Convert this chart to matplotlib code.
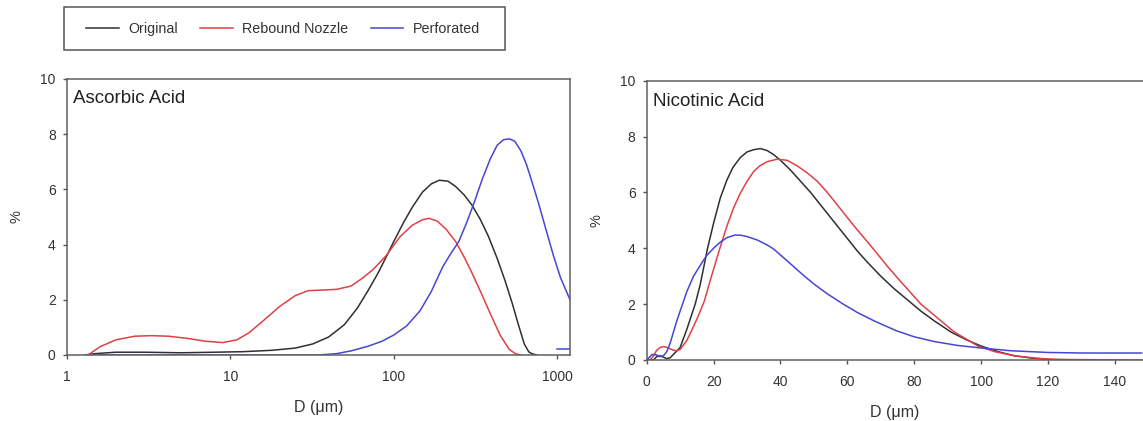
import matplotlib.pyplot as plt
from matplotlib.patches import Rectangle

plt.rcParams['font.family'] = ['Liberation Sans', 'DejaVu Sans']

# Ascorbic acid (log D axis)
asc_orig_d = [1.3, 1.5, 2, 3, 5, 8, 12, 18, 25, 32, 40, 50, 60, 70, 80, 90, 100, 115, 130, 150, 170, 190,
              215, 240, 270, 300, 340, 380, 430, 480, 530, 580, 630, 670, 700, 750]
asc_orig_y = [0.0, 0.05, 0.1, 0.1, 0.08, 0.1, 0.12, 0.17, 0.25, 0.4, 0.65, 1.1, 1.7, 2.35, 2.95, 3.55, 4.1,
              4.8, 5.35, 5.9, 6.2, 6.33, 6.3, 6.1, 5.8, 5.45, 4.9, 4.3, 3.5, 2.7, 1.9, 1.1, 0.4, 0.12, 0.05, 0.0]
asc_reb_d = [1.35, 1.6, 2, 2.6, 3.3, 4.2, 5.5, 7, 9, 11, 13, 16, 20, 25, 30, 36, 45, 55, 65, 75, 90, 110,
             130, 150, 165, 185, 210, 240, 270, 300, 340, 390, 450, 510, 560, 600]
asc_reb_y = [0.0, 0.3, 0.55, 0.68, 0.7, 0.68, 0.6, 0.5, 0.45, 0.55, 0.8, 1.25, 1.75, 2.15, 2.33, 2.35, 2.38,
             2.5, 2.8, 3.1, 3.6, 4.3, 4.7, 4.9, 4.95, 4.85, 4.55, 4.1, 3.55, 3.0, 2.3, 1.5, 0.7, 0.2, 0.04, 0.0]
asc_perf_d = [1.4, 10, 35, 45, 55, 70, 85, 100, 120, 145, 170, 200, 225, 250, 280, 310, 350, 390, 430, 470,
              510, 550, 600, 650, 700, 770, 850, 950, 1050, 1200]
asc_perf_y = [0.0, 0.0, 0.0, 0.05, 0.15, 0.32, 0.5, 0.72, 1.05, 1.6, 2.3, 3.2, 3.7, 4.1, 4.8, 5.5, 6.4, 7.1,
              7.6, 7.8, 7.83, 7.75, 7.4, 6.9, 6.3, 5.5, 4.6, 3.6, 2.8, 2.0]
asc_perf_tail_d = [1000, 1200]
asc_perf_tail_y = [0.2, 0.2]

# Nicotinic acid (linear D axis)
nic_orig_d = [0, 2, 3, 4, 5, 6, 7, 8, 10, 12, 14.5, 16, 18.2, 20, 22, 24, 25.8, 28, 30, 32, 34, 36, 38, 40,
              43, 46, 49, 52, 56, 60, 63, 66, 70, 74, 78, 82, 86, 91, 96, 100, 105, 110, 115, 120, 130]
nic_orig_y = [0.0, 0.0, 0.12, 0.15, 0.1, 0.05, 0.08, 0.2, 0.45, 1.1, 2.0, 2.7, 4.0, 4.9, 5.8, 6.45, 6.9, 7.25,
              7.45, 7.53, 7.57, 7.5, 7.35, 7.15, 6.8, 6.4, 6.0, 5.55, 4.95, 4.35, 3.9, 3.5, 3.0, 2.55, 2.15,
              1.75, 1.4, 1.0, 0.7, 0.5, 0.3, 0.15, 0.07, 0.02, 0.0]
nic_reb_d = [0, 1, 2, 3, 4, 5, 6, 7, 8, 9, 10, 12, 14, 15.5, 17.2, 19, 20.5, 22, 24, 26, 27.9, 30, 32, 33.8,
             36, 39, 42, 45, 48, 51, 54, 58, 62, 67.6, 72, 76, 82, 86, 92, 96, 99, 104, 110, 116, 122, 148]
nic_reb_y = [0.0, 0.0, 0.15, 0.35, 0.45, 0.48, 0.45, 0.4, 0.35, 0.33, 0.38, 0.7, 1.2, 1.6, 2.1, 2.85, 3.45,
             4.05, 4.8, 5.45, 5.95, 6.4, 6.75, 6.95, 7.1, 7.19, 7.15, 6.95, 6.7, 6.4, 6.0, 5.4, 4.8, 4.0, 3.35,
             2.8, 2.0, 1.6, 1.0, 0.72, 0.5, 0.3, 0.15, 0.07, 0.02, 0.0]
nic_perf_d = [0, 1.6, 3, 4, 5, 6, 7, 8, 9, 10.7, 12, 14, 16.6, 18, 20.4, 22, 24, 26.3, 28, 30, 33, 36, 38,
              42, 46.7, 50, 54, 58.5, 63, 68, 74.6, 80, 86, 93, 100, 109, 120, 130, 148]
nic_perf_y = [0.0, 0.2, 0.18, 0.12, 0.15, 0.3, 0.6, 1.0, 1.4, 2.0, 2.45, 3.0, 3.5, 3.75, 4.05, 4.22, 4.38, 4.47,
              4.47, 4.42, 4.3, 4.12, 3.97, 3.55, 3.05, 2.72, 2.37, 2.02, 1.7, 1.4, 1.05, 0.83, 0.66, 0.52, 0.43,
              0.33, 0.27, 0.25, 0.25]

series_names = ['Original', 'Rebound Nozzle', 'Perforated']
colors = ['#303030', '#e04048', '#4646d2']
lw = 1.1
txt = '#333333'

fig = plt.figure(figsize=(11.43, 4.21), dpi=100)

ax1 = fig.add_axes([0.0584, 0.1568, 0.4403, 0.6556])
ax1.plot(asc_orig_d, asc_orig_y, color=colors[0], lw=lw)
ax1.plot(asc_reb_d, asc_reb_y, color=colors[1], lw=lw)
ax1.plot(asc_perf_d, asc_perf_y, color=colors[2], lw=lw)
ax1.plot(asc_perf_tail_d, asc_perf_tail_y, color=colors[2], lw=lw)
ax1.set_xscale('log')
ax1.set_xlim(1, 1200)
ax1.set_xticks([1, 10, 100, 1000])
ax1.set_xticklabels(['1', '10', '100', '1000'])
ax1.minorticks_off()
ax1.text(0.012, 0.913, 'Ascorbic Acid', transform=ax1.transAxes, fontsize=13.5, va='baseline', color='#222222')

ax2 = fig.add_axes([0.5658, 0.1449, 0.4342, 0.6634])
ax2.plot(nic_orig_d, nic_orig_y, color=colors[0], lw=lw)
ax2.plot(nic_reb_d, nic_reb_y, color=colors[1], lw=lw)
ax2.plot(nic_perf_d, nic_perf_y, color=colors[2], lw=lw)
ax2.set_xlim(0, 148.4)
ax2.set_xticks([0, 20, 40, 60, 80, 100, 120, 140])
ax2.spines['right'].set_visible(False)
ax2.text(0.013, 0.91, 'Nicotinic Acid', transform=ax2.transAxes, fontsize=13.5, va='baseline', color='#222222')

for ax in (ax1, ax2):
    ax.set_ylim(0, 10)
    ax.set_yticks([0, 2, 4, 6, 8, 10])
    ax.tick_params(labelsize=10, length=3, width=1.0, color='#555555', labelcolor=txt)
    ax.tick_params(axis='x', pad=8)
    ax.tick_params(axis='y', pad=5)
    for s in ax.spines.values():
        s.set_color('#606060')
        s.set_linewidth(1.1)
    ax.set_xlabel('D (\u03bcm)', fontsize=11.5, color=txt, labelpad=11)
    ax.set_ylabel('%', fontsize=10.5, color=txt, labelpad=12)

# legend box drawn separately so its padding can match the original
fig.patches.append(Rectangle((64 / 1143, 1 - 50 / 421), 441 / 1143, 43 / 421, transform=fig.transFigure,
                             facecolor='white', edgecolor='#555555', lw=1.1))
handles = [plt.Line2D([], [], color=c, lw=lw) for c in colors]
leg = fig.legend(handles, series_names, loc='center left', bbox_to_anchor=(86 / 1143, 1 - 29 / 421),
                 borderaxespad=0, borderpad=0, ncol=3, fontsize=10.3, frameon=False,
                 handlelength=2.3, columnspacing=1.55, handletextpad=0.65)
for t in leg.get_texts():
    t.set_color(txt)

fig.savefig('out.png', dpi=100)
